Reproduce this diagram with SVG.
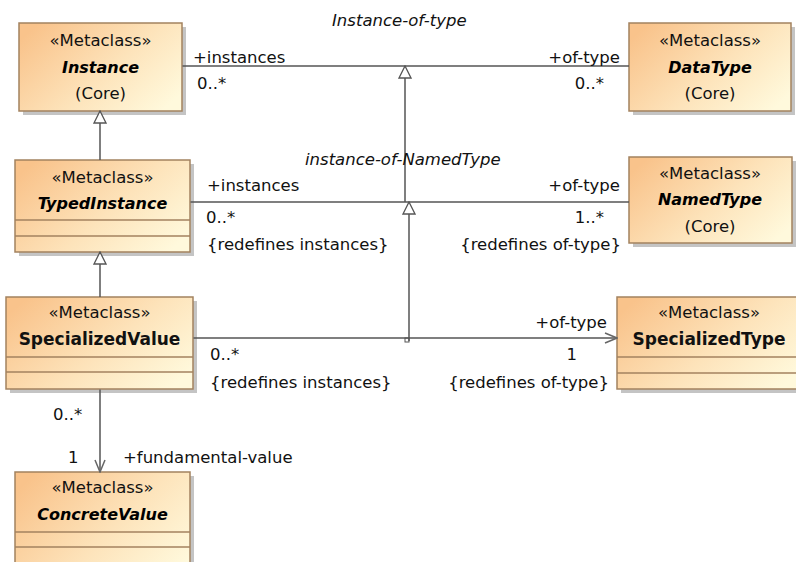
<svg xmlns="http://www.w3.org/2000/svg" width="796" height="562" viewBox="0 0 796 562">
<defs>
<linearGradient id="fill" x1="0" y1="0.2" x2="1" y2="0.8">
<stop offset="0" stop-color="#F9C38B"/>
<stop offset="0.55" stop-color="#FDE3BA"/>
<stop offset="1" stop-color="#FFF9DC"/>
</linearGradient>
<marker id="open" viewBox="0 0 14 12" refX="13" refY="6" markerWidth="14" markerHeight="12" markerUnits="userSpaceOnUse" orient="auto">
<path d="M1,1 L13,6 L1,11" fill="none" stroke="#666" stroke-width="1.5"/>
</marker>
<marker id="gen" viewBox="0 0 16 14" refX="15" refY="7" markerWidth="16" markerHeight="14" markerUnits="userSpaceOnUse" orient="auto">
<path d="M3,1 L15,7 L3,13 Z" fill="#fff" stroke="#555" stroke-width="1.3"/>
</marker>
</defs>
<style>
.shadow{fill:#c4c4c4}
.box{fill:url(#fill);stroke:#A3825F;stroke-width:1.5}
.sep{stroke:#A3825F;stroke-width:1.3}
.st{font-family:"DejaVu Sans",sans-serif;font-size:16.5px;fill:#111;text-anchor:middle}
.nm{font-family:"DejaVu Sans",sans-serif;font-size:16px;font-weight:bold;font-style:oblique;fill:#000;text-anchor:middle}
.nb{font-family:"DejaVu Sans",sans-serif;font-size:17px;font-weight:bold;fill:#111;text-anchor:middle}
.lb{font-family:"DejaVu Sans",sans-serif;font-size:16.5px;fill:#111}
.r{text-anchor:end}
.as{font-family:"DejaVu Sans",sans-serif;font-size:16.5px;font-style:oblique;fill:#111}
.ln{stroke:#555;stroke-width:1.5;fill:none}
</style>

<g id="Instance">
<rect class="shadow" x="23" y="27" width="163" height="88"/>
<rect class="box" x="19" y="23" width="163" height="88"/>
<text class="st" x="100.5" y="46">«Metaclass»</text>
<text class="nm" x="100.5" y="73">Instance</text>
<text class="st" x="100.5" y="99">(Core)</text>
</g>

<g id="DataType">
<rect class="shadow" x="633" y="27" width="162" height="88"/>
<rect class="box" x="629" y="23" width="162" height="88"/>
<text class="st" x="710" y="46">«Metaclass»</text>
<text class="nm" x="710" y="73">DataType</text>
<text class="st" x="710" y="99">(Core)</text>
</g>

<g id="TypedInstance">
<rect class="shadow" x="19" y="164" width="175" height="92"/>
<rect class="box" x="15" y="160" width="175" height="92"/>
<line class="sep" x1="15" y1="220" x2="190" y2="220"/>
<line class="sep" x1="15" y1="236" x2="190" y2="236"/>
<text class="st" x="102.5" y="183">«Metaclass»</text>
<text class="nm" x="102.5" y="209">TypedInstance</text>
</g>

<g id="NamedType">
<rect class="shadow" x="633" y="161" width="163" height="86"/>
<rect class="box" x="629" y="157" width="163" height="86"/>
<text class="st" x="710" y="179">«Metaclass»</text>
<text class="nm" x="710" y="205">NamedType</text>
<text class="st" x="710" y="232">(Core)</text>
</g>

<g id="SpecializedValue">
<rect class="shadow" x="10" y="301" width="187" height="92"/>
<rect class="box" x="6" y="297" width="187" height="92"/>
<line class="sep" x1="6" y1="357" x2="193" y2="357"/>
<line class="sep" x1="6" y1="372" x2="193" y2="372"/>
<text class="st" x="99.5" y="318">«Metaclass»</text>
<text class="nb" x="99.5" y="345">SpecializedValue</text>
</g>

<g id="SpecializedType">
<rect class="shadow" x="621" y="301" width="184" height="92"/>
<rect class="box" x="617" y="297" width="184" height="92"/>
<line class="sep" x1="617" y1="357" x2="801" y2="357"/>
<line class="sep" x1="617" y1="373" x2="801" y2="373"/>
<text class="st" x="709" y="318">«Metaclass»</text>
<text class="nb" x="709" y="345">SpecializedType</text>
</g>

<g id="ConcreteValue">
<rect class="shadow" x="19" y="476" width="175" height="108"/>
<rect class="box" x="15" y="472" width="175" height="108"/>
<line class="sep" x1="15" y1="532" x2="190" y2="532"/>
<line class="sep" x1="15" y1="547" x2="190" y2="547"/>
<text class="st" x="102.5" y="493">«Metaclass»</text>
<text class="nm" x="102.5" y="520">ConcreteValue</text>
</g>

<g id="connectors">
<line class="ln" x1="182.5" y1="66" x2="629" y2="66"/>
<line class="ln" x1="190.5" y1="202" x2="629" y2="202"/>
<line class="ln" x1="193.5" y1="338" x2="617" y2="338" marker-end="url(#open)"/>
<line class="ln" x1="100" y1="389.5" x2="100" y2="472" marker-end="url(#open)"/>
<line class="ln" x1="100" y1="160" x2="100" y2="111" marker-end="url(#gen)"/>
<line class="ln" x1="100" y1="297" x2="100" y2="252" marker-end="url(#gen)"/>
<line class="ln" x1="405" y1="202" x2="405" y2="66" marker-end="url(#gen)"/>
<line class="ln" x1="409" y1="341" x2="409" y2="202" marker-end="url(#gen)"/>
<rect x="405" y="338" width="4" height="4" fill="none" stroke="#555" stroke-width="1"/>
<text class="as" x="332" y="26">Instance-of-type</text>
<text class="as" x="305" y="165">instance-of-NamedType</text>
<text class="lb" x="193" y="63">+instances</text>
<text class="lb" x="197" y="89">0..*</text>
<text class="lb r" x="620" y="63">+of-type</text>
<text class="lb r" x="604" y="89">0..*</text>
<text class="lb" x="207" y="191">+instances</text>
<text class="lb" x="206" y="223">0..*</text>
<text class="lb" x="207" y="250">{redefines instances}</text>
<text class="lb r" x="620" y="191">+of-type</text>
<text class="lb r" x="604" y="223">1..*</text>
<text class="lb r" x="621" y="250">{redefines of-type}</text>
<text class="lb" x="210" y="360">0..*</text>
<text class="lb" x="210" y="388">{redefines instances}</text>
<text class="lb r" x="607" y="328">+of-type</text>
<text class="lb r" x="577" y="360">1</text>
<text class="lb r" x="609" y="388">{redefines of-type}</text>
<text class="lb" x="53" y="420">0..*</text>
<text class="lb" x="68" y="463">1</text>
<text class="lb" x="123" y="463">+fundamental-value</text>
</g>
</svg>
